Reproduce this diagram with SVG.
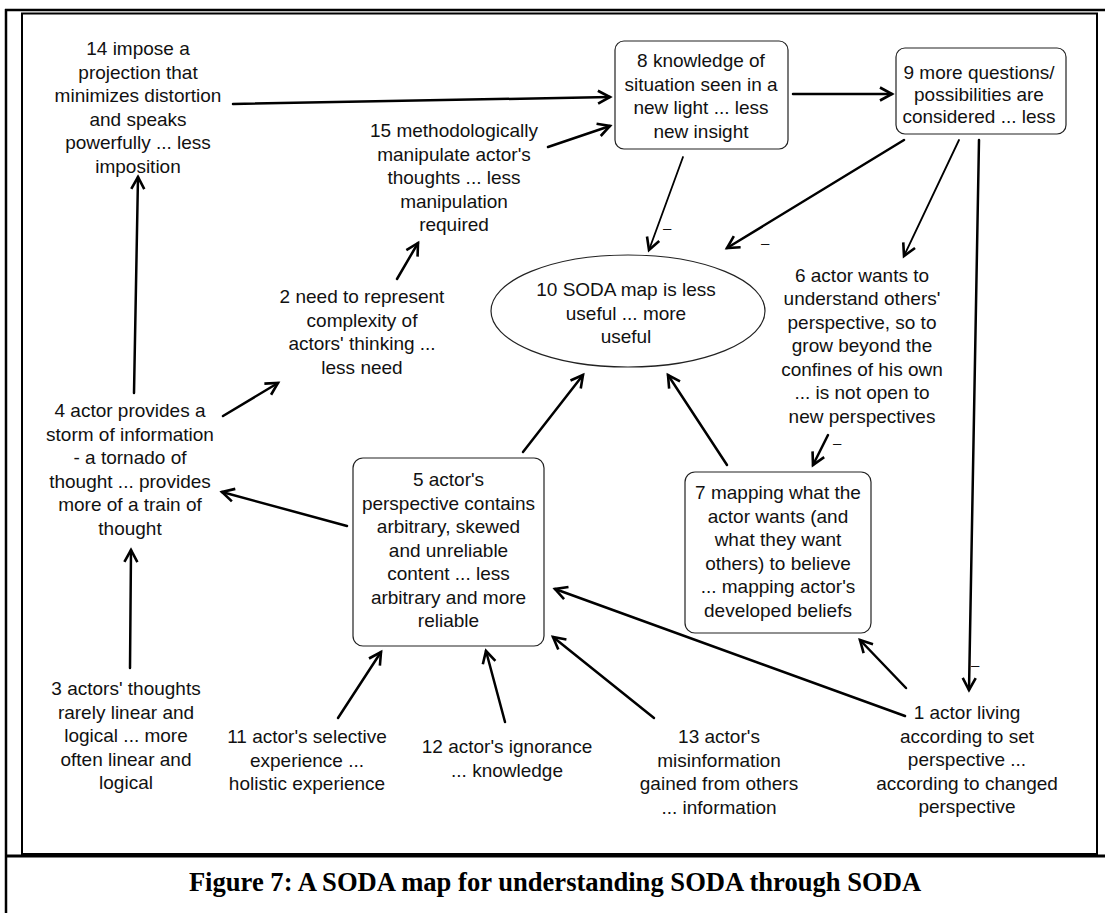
<svg xmlns="http://www.w3.org/2000/svg" width="1105" height="913" viewBox="0 0 1105 913">
  <style>
    .t { font-family: "Liberation Sans", Arial, sans-serif; font-size: 19px; fill: #111; text-anchor: middle; }
    .m { font-family: "Liberation Sans", Arial, sans-serif; font-size: 15px; fill: #111; }
    .cap { font-family: "Liberation Serif", "Times New Roman", serif; font-size: 26.6px; font-weight: bold; fill: #000; text-anchor: middle; }
    .box { fill: #fff; stroke: #222; stroke-width: 1.2; }
    .frame { fill: none; stroke: #000; }
    .c { fill: none; stroke: #000; stroke-width: 2.5; stroke-linecap: round; marker-end: url(#ah); }
    .c2 { fill: none; stroke: #000; stroke-width: 1.8; stroke-linecap: round; marker-end: url(#ah); }
  </style>
  <defs>
    <marker id="ah" markerUnits="userSpaceOnUse" markerWidth="24" markerHeight="24" viewBox="-16 -12 24 24" refX="0" refY="0" orient="auto" overflow="visible">
      <path d="M-12,-6.5 L0,0 L-12,6.5" fill="none" stroke="#000" stroke-width="2.6" stroke-linejoin="miter"/>
    </marker>
  </defs>

  <rect x="0" y="0" width="1105" height="913" fill="#fff"/>

  <!-- page frame -->
  <g id="frame">
    <line class="frame" x1="5" y1="10" x2="1105" y2="10" stroke-width="2.5"/>
    <line class="frame" x1="6" y1="9" x2="6" y2="913" stroke-width="2.5"/>
    <rect class="frame" x="22" y="13.5" width="1075" height="840.5" stroke="#222" stroke-width="2"/>
    <line class="frame" x1="5" y1="856" x2="1105" y2="856" stroke-width="3"/>
  </g>

  <!-- connectors -->
  <g id="connectors">
    <path class="c" d="M233,104 L610,97"/>
    <path class="c" d="M548,147 L610,126"/>
    <path class="c" d="M793,94 L892,94"/>
    <path class="c2" d="M683,157 L649,250"/>
    <path class="c" d="M904,140 L727,248"/>
    <path class="c2" d="M959,140 L904,256"/>
    <path class="c" d="M979,140 L969,690"/>
    <path class="c" d="M397,279 L418,243"/>
    <path class="c" d="M134,393 L138,177"/>
    <path class="c" d="M223,416 L278,383"/>
    <path class="c" d="M130,668 L131,550"/>
    <path class="c" d="M347,526 L222,492"/>
    <path class="c" d="M523,452 L583,375"/>
    <path class="c" d="M727,465 L668,375"/>
    <path class="c" d="M828,435 L813,465"/>
    <path class="c" d="M338,718 L381,652"/>
    <path class="c" d="M505,722 L486,651"/>
    <path class="c" d="M654,718 L553,637"/>
    <path class="c" d="M905,716 L555,589"/>
    <path class="c" d="M906,688 L860,640"/>
    <text class="m" x="663" y="233">–</text>
    <text class="m" x="761" y="248">–</text>
    <text class="m" x="833" y="448">–</text>
    <text class="m" x="971" y="670">–</text>
  </g>

  <g id="n14">
    <text class="t" x="138" y="55">14 impose a</text>
    <text class="t" x="138" y="78.5">projection that</text>
    <text class="t" x="138" y="102">minimizes distortion</text>
    <text class="t" x="138" y="125.5">and speaks</text>
    <text class="t" x="138" y="149">powerfully ... less</text>
    <text class="t" x="138" y="172.5">imposition</text>
  </g>

  <g id="n15">
    <text class="t" x="454" y="137">15 methodologically</text>
    <text class="t" x="454" y="160.5">manipulate actor's</text>
    <text class="t" x="454" y="184">thoughts ... less</text>
    <text class="t" x="454" y="207.5">manipulation</text>
    <text class="t" x="454" y="231">required</text>
  </g>

  <g id="n8">
    <rect class="box" x="615" y="41" width="173" height="108" rx="9"/>
    <text class="t" x="701" y="67">8 knowledge of</text>
    <text class="t" x="701" y="90.5">situation seen in a</text>
    <text class="t" x="701" y="114">new light ... less</text>
    <text class="t" x="701" y="137.5">new insight</text>
  </g>

  <g id="n9">
    <rect class="box" x="896" y="48" width="170" height="86" rx="9"/>
    <text class="t" x="979" y="79">9 more questions/</text>
    <text class="t" x="979" y="101">possibilities are</text>
    <text class="t" x="979" y="123">considered ... less</text>
  </g>

  <g id="n10">
    <ellipse class="box" cx="628" cy="311" rx="137" ry="56"/>
    <text class="t" x="626" y="296">10 SODA map is less</text>
    <text class="t" x="626" y="319.5">useful ... more</text>
    <text class="t" x="626" y="343">useful</text>
  </g>

  <g id="n2">
    <text class="t" x="362" y="303">2 need to represent</text>
    <text class="t" x="362" y="326.5">complexity of</text>
    <text class="t" x="362" y="350">actors' thinking ...</text>
    <text class="t" x="362" y="373.5">less need</text>
  </g>

  <g id="n6">
    <text class="t" x="862" y="281.5">6 actor wants to</text>
    <text class="t" x="862" y="305">understand others'</text>
    <text class="t" x="862" y="328.5">perspective, so to</text>
    <text class="t" x="862" y="352">grow beyond the</text>
    <text class="t" x="862" y="375.5">confines of his own</text>
    <text class="t" x="862" y="399">... is not open to</text>
    <text class="t" x="862" y="422.5">new perspectives</text>
  </g>

  <g id="n4">
    <text class="t" x="130" y="417">4 actor provides a</text>
    <text class="t" x="130" y="440.5">storm of information</text>
    <text class="t" x="130" y="464">- a tornado of</text>
    <text class="t" x="130" y="487.5">thought ... provides</text>
    <text class="t" x="130" y="511">more of a train of</text>
    <text class="t" x="130" y="534.5">thought</text>
  </g>

  <g id="n5">
    <rect class="box" x="353" y="458" width="191" height="188" rx="10"/>
    <text class="t" x="448.5" y="486">5 actor's</text>
    <text class="t" x="448.5" y="509.5">perspective contains</text>
    <text class="t" x="448.5" y="533">arbitrary, skewed</text>
    <text class="t" x="448.5" y="556.5">and unreliable</text>
    <text class="t" x="448.5" y="580">content ... less</text>
    <text class="t" x="448.5" y="603.5">arbitrary and more</text>
    <text class="t" x="448.5" y="627">reliable</text>
  </g>

  <g id="n7">
    <rect class="box" x="685" y="472" width="186" height="161" rx="10"/>
    <text class="t" x="778" y="499">7 mapping what the</text>
    <text class="t" x="778" y="522.5">actor wants (and</text>
    <text class="t" x="778" y="546">what they want</text>
    <text class="t" x="778" y="569.5">others) to believe</text>
    <text class="t" x="778" y="593">... mapping actor's</text>
    <text class="t" x="778" y="616.5">developed beliefs</text>
  </g>

  <g id="n3">
    <text class="t" x="126" y="695">3 actors' thoughts</text>
    <text class="t" x="126" y="718.5">rarely linear and</text>
    <text class="t" x="126" y="742">logical ... more</text>
    <text class="t" x="126" y="765.5">often linear and</text>
    <text class="t" x="126" y="789">logical</text>
  </g>

  <g id="n11">
    <text class="t" x="307" y="743">11 actor's selective</text>
    <text class="t" x="307" y="766.5">experience ...</text>
    <text class="t" x="307" y="790">holistic experience</text>
  </g>

  <g id="n12">
    <text class="t" x="507" y="753">12 actor's ignorance</text>
    <text class="t" x="507" y="776.5">... knowledge</text>
  </g>

  <g id="n13">
    <text class="t" x="719" y="743">13 actor's</text>
    <text class="t" x="719" y="766.5">misinformation</text>
    <text class="t" x="719" y="790">gained from others</text>
    <text class="t" x="719" y="813.5">... information</text>
  </g>

  <g id="n1">
    <text class="t" x="967" y="719">1 actor living</text>
    <text class="t" x="967" y="742.5">according to set</text>
    <text class="t" x="967" y="766">perspective ...</text>
    <text class="t" x="967" y="789.5">according to changed</text>
    <text class="t" x="967" y="813">perspective</text>
  </g>

  <text class="cap" x="555" y="891">Figure 7: A SODA map for understanding SODA through SODA</text>
</svg>
